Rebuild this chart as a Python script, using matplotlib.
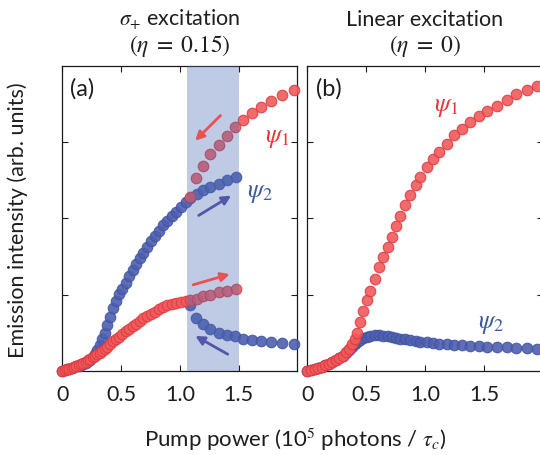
import matplotlib
matplotlib.use("Agg")
import matplotlib.pyplot as plt

plt.rcParams['font.family'] = ['Lato', 'DejaVu Sans']
plt.rcParams['mathtext.fontset'] = 'stix'

# ---- panel (a): sigma+ excitation, eta = 0.15 ----
# increasing pump sweep
up_pump = [0.00, 0.02, 0.04, 0.06, 0.08, 0.10, 0.12, 0.14, 0.16, 0.18, 0.20,
           0.22, 0.24, 0.26, 0.28, 0.30, 0.32, 0.34, 0.36, 0.385, 0.41, 0.435,
           0.46, 0.485, 0.51, 0.54, 0.57, 0.60, 0.63, 0.66, 0.69, 0.72, 0.755,
           0.79, 0.825, 0.86, 0.895, 0.93, 0.97, 1.01, 1.05, 1.09, 1.145, 1.20,
           1.26, 1.33, 1.40, 1.475]
up_psi2 = [0.00, 0.01, 0.02, 0.03, 0.04, 0.05, 0.06, 0.07, 0.08, 0.09, 0.11,
           0.13, 0.15, 0.18, 0.22, 0.27, 0.34, 0.42, 0.50, 0.60, 0.71, 0.82,
           0.92, 1.01, 1.08, 1.16, 1.24, 1.32, 1.40, 1.48, 1.55, 1.62, 1.70,
           1.77, 1.84, 1.91, 1.97, 2.03, 2.09, 2.15, 2.21, 2.27, 2.32, 2.37,
           2.41, 2.45, 2.50, 2.55]
up_psi1 = [0.00, 0.01, 0.02, 0.03, 0.04, 0.05, 0.06, 0.08, 0.09, 0.10, 0.12,
           0.14, 0.16, 0.18, 0.20, 0.22, 0.24, 0.26, 0.29, 0.32, 0.36, 0.39,
           0.42, 0.45, 0.48, 0.52, 0.55, 0.59, 0.62, 0.66, 0.69, 0.72, 0.75,
           0.78, 0.81, 0.84, 0.86, 0.88, 0.895, 0.905, 0.915, 0.925, 0.95, 0.98,
           1.00, 1.03, 1.05, 1.07]
# decreasing pump sweep (upper psi1 / lower psi2 branch)
down_pump = [1.09, 1.14, 1.20, 1.26, 1.33, 1.40, 1.465, 1.54, 1.615, 1.69,
             1.775, 1.87, 1.97]
down_psi1 = [2.28, 2.53, 2.69, 2.85, 2.96, 3.08, 3.20, 3.29, 3.38, 3.46,
             3.545, 3.62, 3.68]
down_psi2 = [0.86, 0.70, 0.62, 0.55, 0.50, 0.47, 0.455, 0.42, 0.41, 0.40,
             0.38, 0.37, 0.355]
bistable_range = [1.06, 1.50]

# ---- panel (b): linear excitation, eta = 0 ----
lin_pump = [0.00, 0.03, 0.06, 0.09, 0.12, 0.15, 0.18, 0.21, 0.24, 0.27, 0.30,
            0.33, 0.355, 0.38, 0.40, 0.42, 0.45, 0.475, 0.51, 0.535, 0.575,
            0.61, 0.645, 0.685, 0.72, 0.755, 0.79, 0.83, 0.875, 0.925, 0.96,
            1.015, 1.07, 1.115, 1.19, 1.245, 1.315, 1.385, 1.455, 1.53, 1.61,
            1.70, 1.77, 1.87, 1.955]
lin_psi1 = [0.00, 0.01, 0.025, 0.04, 0.055, 0.075, 0.095, 0.115, 0.14, 0.17,
            0.20, 0.245, 0.29, 0.35, 0.42, 0.50, 0.64, 0.79, 0.93, 1.05, 1.21,
            1.36, 1.49, 1.63, 1.76, 1.90, 2.03, 2.18, 2.31, 2.44, 2.54, 2.67,
            2.78, 2.87, 2.98, 3.09, 3.17, 3.26, 3.34, 3.41, 3.48, 3.56, 3.63,
            3.69, 3.74]
lin_psi2 = [0.00, 0.01, 0.025, 0.04, 0.055, 0.075, 0.095, 0.115, 0.14, 0.17,
            0.20, 0.24, 0.28, 0.32, 0.35, 0.38, 0.41, 0.43, 0.45, 0.46, 0.47,
            0.47, 0.465, 0.455, 0.445, 0.435, 0.425, 0.415, 0.405, 0.395,
            0.385, 0.375, 0.365, 0.355, 0.35, 0.345, 0.335, 0.33, 0.325, 0.32,
            0.315, 0.31, 0.305, 0.30, 0.295]

x_ticks = [0, 0.5, 1.0, 1.5]
x_tick_labels = ['0', '0.5', '1.0', '1.5']

RED_FACE = '#F05A5C'
RED_EDGE = '#E23A3E'
BLUE_FACE = '#4F5EAE'
BLUE_EDGE = '#3F55A6'
RED_TXT = '#E8343A'
BLUE_TXT = '#3B5A9E'
RED_ARROW = '#E85252'
BLUE_ARROW = '#5257AA'
INK = '#1e1e1e'

fig = plt.figure(figsize=(5.4, 4.56), dpi=100)
ax_a = fig.add_axes([0.1152, 0.1842, 0.4357, 0.6689])
ax_b = fig.add_axes([0.5694, 0.1842, 0.4357, 0.6689])


def dots(ax, x, y, face, edge):
    ax.plot(x, y, 'o', ms=7.6, mfc=face, mec=edge, mew=0.8, alpha=0.9,
            clip_on=False, zorder=2.2, linestyle='none')


def style(ax):
    ax.set_xlim(0, 2.0)
    ax.set_ylim(0, 4)
    ax.set_xticks(x_ticks)
    ax.set_xticklabels(x_tick_labels)
    ax.set_yticks([1, 2, 3])
    ax.set_yticklabels([])
    ax.tick_params(direction='in', length=4, width=0.8, top=True, right=True,
                   labelsize=15.5, pad=9, colors=INK)
    for s in ax.spines.values():
        s.set_linewidth(0.9)
        s.set_color('#1a1a1a')
        s.set_zorder(2.1)


# panel (a)
dots(ax_a, up_pump, up_psi2, BLUE_FACE, BLUE_EDGE)
dots(ax_a, down_pump, down_psi2, BLUE_FACE, BLUE_EDGE)
dots(ax_a, up_pump, up_psi1, RED_FACE, RED_EDGE)
dots(ax_a, down_pump, down_psi1, RED_FACE, RED_EDGE)
ax_a.axvspan(bistable_range[0], bistable_range[1], color='#4868B2',
             alpha=0.35, lw=0, zorder=2.3)
style(ax_a)

arrow_kw = dict(arrowstyle='-|>', lw=2.0, mutation_scale=13,
                shrinkA=0, shrinkB=0)
ax_a.annotate('', xy=(1.13, 3.02), xytext=(1.345, 3.35),
              arrowprops=dict(color=RED_ARROW, **arrow_kw), zorder=3)
ax_a.annotate('', xy=(1.436, 2.30), xytext=(1.16, 2.04),
              arrowprops=dict(color=BLUE_ARROW, **arrow_kw), zorder=3)
ax_a.annotate('', xy=(1.425, 1.27), xytext=(1.113, 1.13),
              arrowprops=dict(color=RED_ARROW, **arrow_kw), zorder=3)
ax_a.annotate('', xy=(1.132, 0.46), xytext=(1.407, 0.22),
              arrowprops=dict(color=BLUE_ARROW, **arrow_kw), zorder=3)

ax_a.text(1.83, 3.07, r'$\psi_1$', color=RED_TXT, fontsize=18.5,
          ha='center', va='center')
ax_a.text(1.68, 2.35, r'$\psi_2$', color=BLUE_TXT, fontsize=18.5,
          ha='center', va='center')
ax_a.text(0.07, 3.72, '(a)', fontsize=17, ha='left', va='center',
          color=INK)

# panel (b)
dots(ax_b, lin_pump, lin_psi2, BLUE_FACE, BLUE_EDGE)
dots(ax_b, lin_pump, lin_psi1, RED_FACE, RED_EDGE)
style(ax_b)
ax_b.text(1.18, 3.48, r'$\psi_1$', color=RED_TXT, fontsize=18.5,
          ha='center', va='center')
ax_b.text(1.56, 0.63, r'$\psi_2$', color=BLUE_TXT, fontsize=18.5,
          ha='center', va='center')
ax_b.text(0.07, 3.72, '(b)', fontsize=17, ha='left', va='center',
          color=INK)

# column headings
fig.text(180 / 540, 1 - 20 / 456, r'$\sigma_{+}$ excitation', fontsize=15.5,
         ha='center', va='center', color=INK)
fig.text(180 / 540, 1 - 46 / 456, r'$(\eta\;=\;0.15)$', fontsize=17,
         ha='center', va='center', color=INK)
fig.text(425 / 540, 1 - 20 / 456, 'Linear excitation', fontsize=15.5,
         ha='center', va='center', color=INK)
fig.text(425 / 540, 1 - 46 / 456, r'$(\eta\;=\;0)$', fontsize=17,
         ha='center', va='center', color=INK)

fig.text(295 / 540, 1 - 440 / 456, r'Pump power (10$^5$ photons / $\tau_c$)',
         fontsize=16, ha='center', va='center', color=INK)
fig.text(18 / 540, 1 - 220 / 456, 'Emission intensity (arb. units)',
         fontsize=15.5, ha='center', va='center', rotation=90, color=INK)

fig.savefig('out.png', dpi=100)
